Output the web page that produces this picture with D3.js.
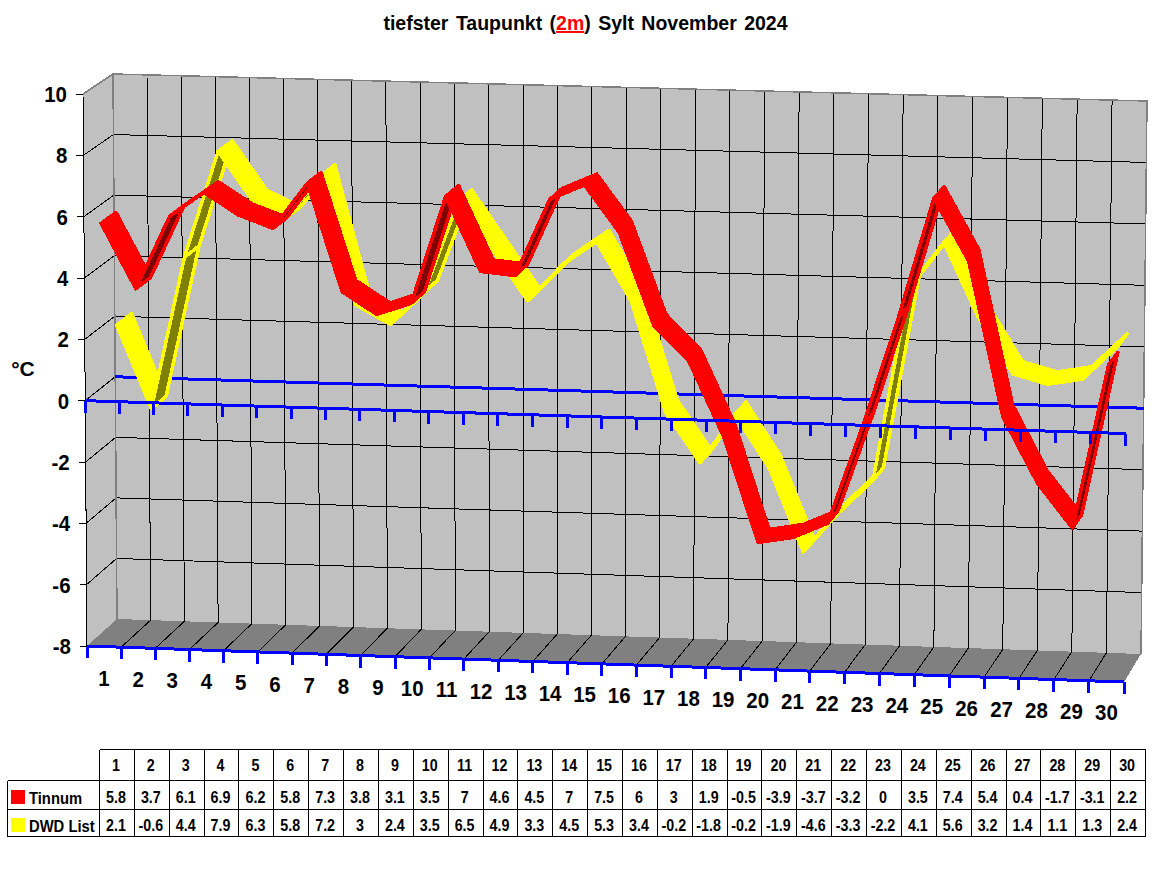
<!DOCTYPE html>
<html>
<head>
<meta charset="utf-8">
<script src="https://cdn.jsdelivr.net/npm/d3@7"></script>
<style>
html,body{margin:0;padding:0;background:#fff}
svg{display:block}
text{font-family:"Liberation Sans",Arial,sans-serif;font-weight:bold;fill:#000}
</style>
</head>
<body>
<svg id="chart" width="1152" height="882"></svg>
<script>
// Daily lowest dew point values, November 2024
const days = d3.range(1, 31);
const tinnum = [5.8,3.7,6.1,6.9,6.2,5.8,7.3,3.8,3.1,3.5,7,4.6,4.5,7,7.5,6,3,1.9,-0.5,-3.9,-3.7,-3.2,0,3.5,7.4,5.4,0.4,-1.7,-3.1,2.2];
const dwdList = [2.1,-0.6,4.4,7.9,6.3,5.8,7.2,3,2.4,3.5,6.5,4.9,3.3,4.5,5.3,3.4,-0.2,-1.8,-0.2,-1.9,-4.6,-3.3,-2.2,4.1,5.6,3.2,1.4,1.1,1.3,2.4];
const valueTicks = [10,8,6,4,2,0,-2,-4,-6,-8];

const svg = d3.select("#chart");

// Box corners of the chart volume in screen space: [front, back] for each of the four side edges.
const box = {
  leftTop:     [[83, 94],   [113, 74]],
  leftBottom:  [[87, 646],  [117, 619]],
  rightTop:    [[1128, 123],[1147, 101]],
  rightBottom: [[1124, 682],[1141, 654]]
};

const catScale = d3.scaleLinear().domain([0, 30]).range([0, 1]);
const vScale = d3.scaleLinear().domain([-8, 10]).range([0, 1]);
const lerp = (a, b, t) => [a[0] + (b[0] - a[0]) * t, a[1] + (b[1] - a[1]) * t];

// Categories spread slightly towards the right, as the view is in perspective
const uScale = c => {
  const t = catScale(c);
  return 0.986 * t + 0.014 * t * t;
};

// Trilinear mapping: category position, value, depth (0 front .. 1 back) to screen x,y
function project(cat, value, depth) {
  const u = uScale(cat), v = vScale(value);
  const corner = key => lerp(box[key][0], box[key][1], depth);
  const left = lerp(corner("leftBottom"), corner("leftTop"), v);
  const right = lerp(corner("rightBottom"), corner("rightTop"), v);
  return lerp(left, right, u);
}

const line = d3.line();
const root = svg.append("g").attr("shape-rendering", "crispEdges");

// Back wall, left wall and floor
root.append("path")
  .attr("d", line([project(0,10,1), project(30,10,1), project(30,-8,1), project(0,-8,1)]) + "Z")
  .attr("fill", "#c0c0c0");
root.append("path")
  .attr("d", line([project(0,10,0), project(0,10,1), project(0,-8,1), project(0,-8,0)]) + "Z")
  .attr("fill", "#c0c0c0");
root.append("path")
  .attr("d", line([project(0,-8,0), project(0,-8,1), project(30,-8,1), project(30,-8,0)]) + "Z")
  .attr("fill", "#808080");

// Value gridlines across left and back walls
valueTicks.filter(v => v > -8 && v < 10).forEach(v => {
  root.append("path")
    .attr("d", line([project(0,v,0), project(0,v,1), project(30,v,1)]))
    .attr("fill", "none").attr("stroke", "#000").attr("stroke-width", 1);
});

// Category gridlines on back wall and floor
d3.range(1, 30).forEach(c => {
  root.append("path")
    .attr("d", line([project(c,10,1), project(c,-8,1), project(c,-8,0)]))
    .attr("fill", "none").attr("stroke", "#000").attr("stroke-width", 1);
});

// Wall outlines
root.append("path")
  .attr("d", line([project(0,10,0), project(0,10,1), project(30,10,1), project(30,-8,1)]))
  .attr("fill", "none").attr("stroke", "#808080").attr("stroke-width", 1.5);
root.append("path")
  .attr("d", line([project(0,10,1), project(0,-8,1)]))
  .attr("fill", "none").attr("stroke", "#808080").attr("stroke-width", 1.5);
root.append("path")
  .attr("d", line([project(0,10,0), project(0,-8,0)]))
  .attr("fill", "none").attr("stroke", "#000").attr("stroke-width", 1);

// Zero line along the back wall sits behind the ribbons
root.append("path")
  .attr("d", line([project(0,0,1), project(30,0,1)]))
  .attr("fill", "none").attr("stroke", "#0000ff").attr("stroke-width", 3);

// Ribbon segments: the face seen from below takes the darker shade
function ribbon(values, depthFront, depthBack, bright, dark) {
  const g = root.append("g");
  d3.pairs(values.map((v, i) => [i + 0.5, v])).forEach(([a, b]) => {
    const quad = [
      project(a[0], a[1], depthFront),
      project(a[0], a[1], depthBack),
      project(b[0], b[1], depthBack),
      project(b[0], b[1], depthFront)
    ];
    const ax = quad[1][0] - quad[0][0], ay = quad[1][1] - quad[0][1];
    const bx = quad[3][0] - quad[0][0], by = quad[3][1] - quad[0][1];
    const underside = ax * by - ay * bx < 0;
    g.append("path")
      .attr("d", line(quad) + "Z")
      .attr("fill", underside ? dark : bright)
      .attr("stroke", bright)
      .attr("stroke-width", 3.5)
      .attr("stroke-linejoin", "round");
  });
}
ribbon(dwdList, 0.5, 1, "#ffff00", "#808000");
ribbon(tinnum, 0, 0.5, "#ff0000", "#800000");

// Blue axis lines with tick marks at zero and at the floor
[0, -8].forEach(v => {
  root.append("path")
    .attr("d", line([project(0,v,0), project(30,v,0)]))
    .attr("fill", "none").attr("stroke", "#0000ff").attr("stroke-width", 3);
  d3.range(0, 31).forEach(c => {
    const p = project(c, v, 0);
    root.append("path")
      .attr("d", line([p, [p[0], p[1] + 12]]))
      .attr("fill", "none").attr("stroke", "#0000ff").attr("stroke-width", 3);
  });
});

// Value axis ticks and labels
valueTicks.forEach(v => {
  const p = project(0, v, 0);
  svg.append("path")
    .attr("d", line([[p[0] - 7, p[1]], p]))
    .attr("stroke", "#000").attr("shape-rendering", "crispEdges");
  svg.append("text")
    .attr("transform", `translate(${p[0] - 16},${p[1] + 8}) scale(0.93,1)`)
    .attr("text-anchor", "end")
    .attr("font-size", 22)
    .text(v);
});

svg.append("text")
  .attr("x", 23).attr("y", 376)
  .attr("text-anchor", "middle")
  .attr("font-size", 21)
  .text("°C");

// Category labels under the floor
days.forEach((d, i) => {
  const p = project(i + 0.5, -8, 0);
  svg.append("text")
    .attr("transform", `translate(${p[0]},${p[1] + 39}) scale(0.93,1)`)
    .attr("text-anchor", "middle")
    .attr("font-size", 22)
    .text(d);
});

// Title with the highlighted measuring height
const title = svg.append("text")
  .attr("x", 585.5).attr("y", 30)
  .attr("text-anchor", "middle")
  .attr("font-size", 19.5)
  .attr("word-spacing", 2);
title.append("tspan").text("tiefster Taupunkt (");
title.append("tspan").attr("style", "fill:#ff0000;text-decoration:underline").text("2m");
title.append("tspan").text(") Sylt November 2024");

// Data table
const colX = d3.scaleLinear().domain([0, 30]).range([99.5, 1145.5]);
const rowY = [749.5, 780.5, 809.5, 836.5];
const tableLeft = 7.5;
const table = svg.append("g").attr("shape-rendering", "crispEdges");
const rule = (x1, y1, x2, y2) => table.append("line")
  .attr("x1", x1).attr("y1", y1).attr("x2", x2).attr("y2", y2)
  .attr("stroke", "#000").attr("stroke-width", 1);
rule(colX(0), rowY[0], colX(30), rowY[0]);
rowY.slice(1).forEach(y => rule(tableLeft, y, colX(30), y));
rule(tableLeft, rowY[1], tableLeft, rowY[3]);
d3.range(0, 31).forEach(c => rule(colX(c), rowY[0], colX(c), rowY[3]));

const cellText = (x, y, str, anchor, squeeze) => svg.append("text")
  .attr("transform", `translate(${x},${y}) scale(${squeeze},1)`)
  .attr("text-anchor", anchor)
  .attr("font-size", 17)
  .text(str);

const rows = [
  { name: "Tinnum", color: "#ff0000", values: tinnum },
  { name: "DWD List", color: "#ffff00", values: dwdList }
];
days.forEach((d, i) => cellText(colX(i + 0.5) - 1, 771, d, "middle", 0.84));
rows.forEach((row, r) => {
  const base = r === 0 ? 803 : 831;
  table.append("rect")
    .attr("x", 11).attr("y", base - 13).attr("width", 14).attr("height", 14)
    .attr("fill", row.color);
  cellText(29, base + 1, row.name, "start", 0.87);
  row.values.forEach((v, i) => cellText(colX(i + 0.5) - 1, base, v, "middle", 0.84));
});
</script>
</body>
</html>
